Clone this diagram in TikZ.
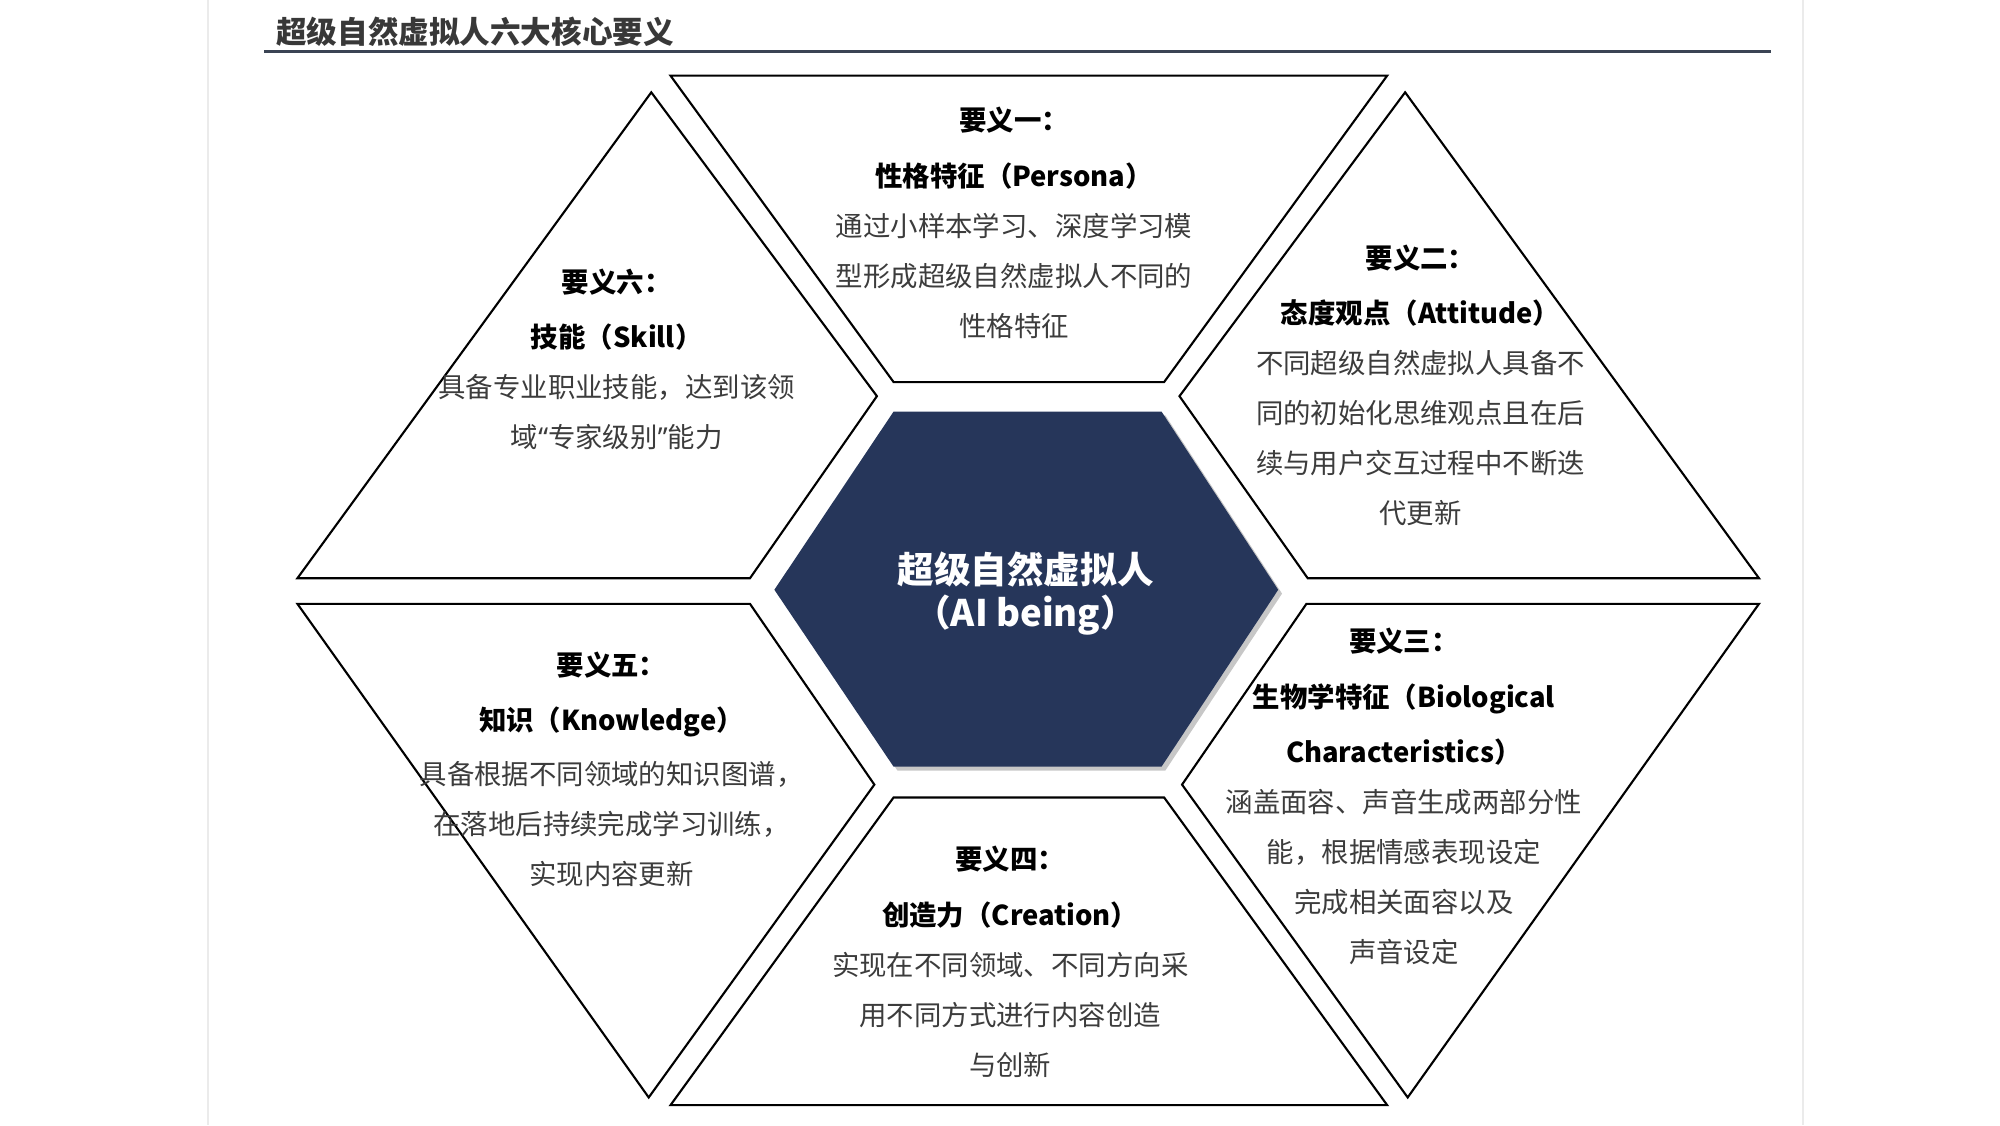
\documentclass[tikz,border=0pt]{standalone}
\usepackage{fontspec}
\setmainfont{Noto Sans CJK SC}
\newfontfamily\latinquote{Noto Sans}
\usepackage{tikz}
\usetikzlibrary{positioning}
\definecolor{hexblue}{HTML}{26365A}
\definecolor{bodygray}{HTML}{3C3C3C}
\definecolor{titlegray}{HTML}{383838}
\definecolor{rulegray}{HTML}{3B4454}

\begin{document}
\begin{tikzpicture}
          [x=0.1282mm, y=-0.1282mm, node distance=2.3mm,
           piece/.style={draw, line width=0.6pt, line join=miter},
           head/.style={font=\bfseries\fontsize{7.8}{15.7}\selectfont, align=center, inner sep=0pt},
           body/.style={font=\fontsize{7.8}{14.2}\selectfont, text=bodygray, align=center, inner sep=0pt}]
          \useasboundingbox (0,0) rectangle (1560,877.5);

          \draw[black!8, line width=0.6pt] (162,0) -- (162,877.5);
          \draw[black!8, line width=0.6pt] (1406,0) -- (1406,877.5);

          \node (title) [anchor=west, inner sep=0pt, text=titlegray,
            font=\bfseries\fontsize{8.7}{10}\selectfont] at (215,25) {超级自然虚拟人六大核心要义};
          \draw[rulegray, line width=0.75pt] (206,40) -- (1381,40);

          \draw[piece] (523,59) -- (1082,59) -- (908,298) -- (697,298) -- cycle;
          \draw[piece] (508,72) -- (684,309) -- (585,451) -- (232,451) -- cycle;
          \draw[piece] (1096,72) -- (920,309) -- (1020,451) -- (1372,451) -- cycle;
          \draw[piece] (232,471) -- (585,471) -- (682,612) -- (506,856) -- cycle;
          \draw[piece] (1372,471) -- (1019,471) -- (922,612) -- (1098,856) -- cycle;
          \draw[piece] (697,622) -- (908,622) -- (1082,862) -- (523,862) -- cycle;

          \fill[black!22, shift={(3,3)}] (697,321) -- (906,321) -- (997,460) -- (906,598) -- (697,598) -- (604,460) -- cycle;
          \fill[hexblue] (697,321) -- (906,321) -- (997,460) -- (906,598) -- (697,598) -- (604,460) -- cycle;
          \node (core) [align=center, text=white, inner sep=0pt,
            font=\bfseries\fontsize{10.4}{12.4}\selectfont] at (800,463) {超级自然虚拟人\\（AI being）};

          \node (h1) [head] at (791,115.5) {要义一：\\性格特征（Persona）};
          \node (b1) [body, below = of h1] {通过小样本学习、深度学习模\\型形成超级自然虚拟人不同的\\性格特征};

          \node (h2) [head] at (1108,222.5) {要义二：\\态度观点（Attitude）};
          \node (b2) [body, below = of h2] {不同超级自然虚拟人具备不\\同的初始化思维观点且在后\\续与用户交互过程中不断迭\\代更新};

          \node (h3) [head] at (1095,543.5) {要义三：\\生物学特征（Biological\\Characteristics）};
          \node (b3) [body, below = of h3] {涵盖面容、声音生成两部分性\\能，根据情感表现设定\\完成相关面容以及\\声音设定};

          \node (h4) [head] at (788,692) {要义四：\\创造力（Creation）};
          \node (b4) [body, below = of h4] {实现在不同领域、不同方向采\\用不同方式进行内容创造\\与创新};

          \node (h5) [head] at (477,541.5) {要义五：\\知识（Knowledge）};
          \node (b5) [body, below = of h5] {具备根据不同领域的知识图谱，\\在落地后持续完成学习训练，\\实现内容更新};

          \node (h6) [head] at (481,241.5) {要义六：\\技能（Skill）};
          \node (b6) [body, below = of h6] {具备专业职业技能，达到该领\\域{\latinquote “}专家级别{\latinquote ”}能力};

        \end{tikzpicture}
\end{document}
